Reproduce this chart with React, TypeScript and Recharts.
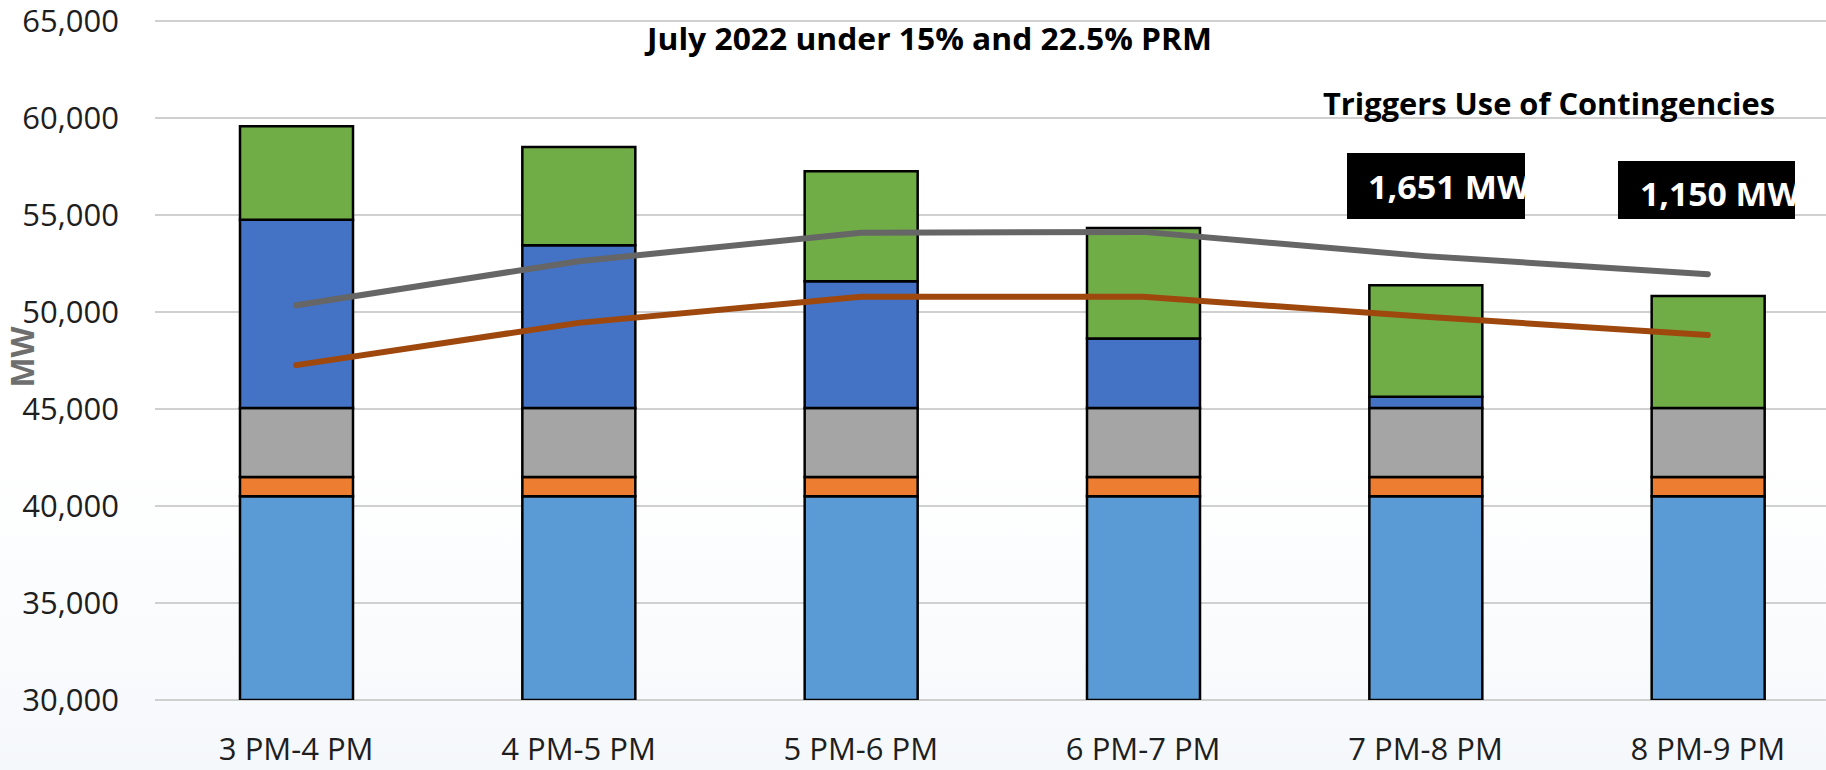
import React from 'react';
import { ComposedChart, Bar, Line, XAxis, YAxis, CartesianGrid } from 'recharts';

const categories = ['3 PM-4 PM', '4 PM-5 PM', '5 PM-6 PM', '6 PM-7 PM', '7 PM-8 PM', '8 PM-9 PM'];
const baseLoad = [40500, 40500, 40500, 40500, 40500, 40500];
const orangeLayer = [1000, 1000, 1000, 1000, 1000, 1000];
const grayLayer = [3550, 3550, 3550, 3550, 3550, 3550];
const blueLayer = [9700, 8390, 6540, 3590, 580, 0];
const greenLayer = [4830, 5070, 5670, 5690, 5750, 5770];
const prm225 = [50350, 52620, 54080, 54130, 52880, 51950];
const prm15 = [47260, 49440, 50780, 50780, 49750, 48810];
const yTicks = [30000, 35000, 40000, 45000, 50000, 55000, 60000, 65000];

const titleText = 'July 2022 under 15% and 22.5% PRM';
const subtitleText = 'Triggers Use of Contingencies';
const boxLabels = ['1,651 MW', '1,150 MW'];

const data = categories.map((c, i) => ({
  cat: c,
  base: baseLoad[i],
  orange: orangeLayer[i],
  gray: grayLayer[i],
  blue: blueLayer[i],
  green: greenLayer[i],
  p225: prm225[i],
  p15: prm15[i],
}));

const FONT = '"Open Sans", "Noto Sans", sans-serif';

export default function App() {
  return (
    <div
      style={{
        position: 'absolute',
        left: 0,
        top: 0,
        width: 1826,
        height: 770,
        overflow: 'hidden',
        background: 'linear-gradient(to bottom, #ffffff 0%, #ffffff 60%, #f5f8fb 100%)',
      }}
    >
      <ComposedChart
        width={1850}
        height={770}
        data={data}
        margin={{ top: 21, right: 1, bottom: 0, left: 0 }}
        barSize={113}
      >
        <CartesianGrid vertical={false} stroke="#d0d0d0" strokeWidth={2} />
        <XAxis
          dataKey="cat"
          axisLine={false}
          tickLine={false}
          tickSize={0}
          tickMargin={38}
          height={70}
          interval={0}
          tick={{ fontSize: 31, fill: '#1e1e1e', fontFamily: FONT }}
        />
        <YAxis
          domain={[30000, 65000]}
          ticks={yTicks}
          allowDataOverflow
          width={155}
          axisLine={false}
          tickLine={false}
          tickSize={0}
          tickMargin={36}
          tickFormatter={(v: number) => v.toLocaleString('en-US')}
          tick={{ fontSize: 31, fill: '#1e1e1e', fontFamily: FONT }}
        />
        <Bar dataKey="base" stackId="s" fill="#5B9BD5" stroke="#000" strokeWidth={2.5} isAnimationActive={false} />
        <Bar dataKey="orange" stackId="s" fill="#ED7D31" stroke="#000" strokeWidth={2.5} isAnimationActive={false} />
        <Bar dataKey="gray" stackId="s" fill="#A5A5A5" stroke="#000" strokeWidth={2.5} isAnimationActive={false} />
        <Bar dataKey="blue" stackId="s" fill="#4472C4" stroke="#000" strokeWidth={2.5} isAnimationActive={false} />
        <Bar dataKey="green" stackId="s" fill="#70AD47" stroke="#000" strokeWidth={2.5} isAnimationActive={false} />
        <Line dataKey="p225" type="linear" stroke="#666666" strokeWidth={6} strokeLinecap="round" dot={false} isAnimationActive={false} />
        <Line dataKey="p15" type="linear" stroke="#9E480E" strokeWidth={6} strokeLinecap="round" dot={false} isAnimationActive={false} />
      </ComposedChart>
      <svg
        width={1826}
        height={770}
        style={{ position: 'absolute', left: 0, top: 0, pointerEvents: 'none' }}
      >
        <defs>
          <clipPath id="box1">
            <rect x={1347} y={153} width={178} height={66} />
          </clipPath>
          <clipPath id="box2">
            <rect x={1618} y={161} width={177} height={58} />
          </clipPath>
        </defs>
        <text
          x={21}
          y={357}
          transform="rotate(-90 21 357)"
          textAnchor="middle"
          dominantBaseline="central"
          fontFamily={FONT}
          fontWeight={700}
          fontSize={32}
          fill="#6e6e6e"
        >
          MW
        </text>
        <text
          x={647}
          y={50}
          textLength={565}
          lengthAdjust="spacingAndGlyphs"
          fontFamily={FONT}
          fontWeight={700}
          fontSize={30}
          fill="#000"
        >
          {titleText}
        </text>
        <text
          x={1323}
          y={115}
          textLength={452}
          lengthAdjust="spacingAndGlyphs"
          fontFamily={FONT}
          fontWeight={700}
          fontSize={30}
          fill="#000"
        >
          {subtitleText}
        </text>
        <rect x={1347} y={153} width={178} height={66} fill="#000" />
        <g clipPath="url(#box1)">
          <text
            x={1368}
            y={199}
            textLength={162}
            lengthAdjust="spacingAndGlyphs"
            fontFamily={FONT}
            fontWeight={700}
            fontSize={33}
            fill="#fff"
          >
            {boxLabels[0]}
          </text>
        </g>
        <rect x={1618} y={161} width={177} height={58} fill="#000" />
        <g clipPath="url(#box2)">
          <text
            x={1640}
            y={206}
            textLength={160}
            lengthAdjust="spacingAndGlyphs"
            fontFamily={FONT}
            fontWeight={700}
            fontSize={32}
            fill="#fff"
          >
            {boxLabels[1]}
          </text>
        </g>
      </svg>
    </div>
  );
}
